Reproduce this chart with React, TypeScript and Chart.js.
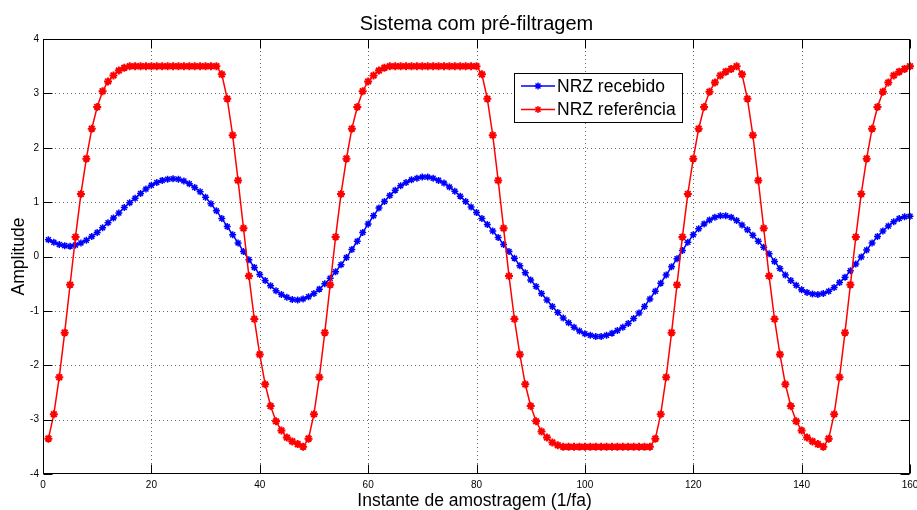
import { useEffect, useRef } from "react";
import { Chart, registerables } from "chart.js";

Chart.register(...registerables);

// Sample indices start at 1 (one value per sampling instant)
const firstSample = 1;

const xTicks = [0, 20, 40, 60, 80, 100, 120, 140, 160];
const yTicks = [-4, -3, -2, -1, 0, 1, 2, 3, 4];

const titleText = "Sistema com pré-filtragem";
const xLabel = "Instante de amostragem (1/fa)";
const yLabel = "Amplitude";
const seriesNames = ["NRZ recebido", "NRZ referência"];

// NRZ recebido (received signal after the channel)
const received = [
  0.31, 0.26, 0.22, 0.2, 0.19, 0.21, 0.25, 0.3, 0.37, 0.44,
  0.53, 0.62, 0.71, 0.8, 0.9, 0.99, 1.07, 1.16, 1.24, 1.31,
  1.36, 1.4, 1.42, 1.43, 1.42, 1.39, 1.34, 1.27, 1.19, 1.09,
  0.97, 0.84, 0.7, 0.55, 0.4, 0.25, 0.09, -0.06, -0.2, -0.33,
  -0.44, -0.54, -0.63, -0.7, -0.75, -0.79, -0.8, -0.78, -0.74, -0.68,
  -0.6, -0.5, -0.4, -0.28, -0.15, -0.02, 0.13, 0.28, 0.44, 0.6,
  0.75, 0.89, 1.01, 1.12, 1.22, 1.3, 1.36, 1.41, 1.44, 1.46,
  1.46, 1.44, 1.4, 1.35, 1.28, 1.2, 1.11, 1.01, 0.91, 0.81,
  0.7, 0.59, 0.47, 0.35, 0.22, 0.09, -0.03, -0.17, -0.3, -0.43,
  -0.55, -0.68, -0.8, -0.92, -1.03, -1.13, -1.22, -1.3, -1.37, -1.42,
  -1.45, -1.47, -1.47, -1.45, -1.41, -1.36, -1.3, -1.23, -1.14, -1.04,
  -0.92, -0.78, -0.64, -0.49, -0.34, -0.19, -0.04, 0.11, 0.26, 0.4,
  0.51, 0.6, 0.67, 0.72, 0.75, 0.75, 0.72, 0.66, 0.58, 0.49,
  0.39, 0.28, 0.17, 0.05, -0.09, -0.22, -0.34, -0.44, -0.53, -0.61,
  -0.66, -0.69, -0.7, -0.68, -0.64, -0.57, -0.48, -0.38, -0.26, -0.14,
  -0.01, 0.12, 0.25, 0.37, 0.47, 0.56, 0.64, 0.7, 0.73, 0.74,
];

// NRZ referência (pre-filtered reference signal)
const reference = [
  -3.35, -2.9, -2.22, -1.4, -0.52, 0.36, 1.15, 1.8, 2.35, 2.75,
  3.04, 3.22, 3.33, 3.42, 3.47, 3.5, 3.5, 3.5, 3.5, 3.5,
  3.5, 3.5, 3.5, 3.5, 3.5, 3.5, 3.5, 3.5, 3.5, 3.5,
  3.5, 3.5, 3.35, 2.9, 2.23, 1.4, 0.52, -0.36, -1.15, -1.8,
  -2.35, -2.75, -3.03, -3.2, -3.33, -3.4, -3.45, -3.5, -3.35, -2.9,
  -2.22, -1.4, -0.52, 0.36, 1.15, 1.8, 2.35, 2.75, 3.04, 3.22,
  3.33, 3.42, 3.47, 3.5, 3.5, 3.5, 3.5, 3.5, 3.5, 3.5,
  3.5, 3.5, 3.5, 3.5, 3.5, 3.5, 3.5, 3.5, 3.5, 3.5,
  3.35, 2.9, 2.23, 1.4, 0.52, -0.36, -1.15, -1.8, -2.35, -2.75,
  -3.03, -3.22, -3.33, -3.42, -3.47, -3.5, -3.5, -3.5, -3.5, -3.5,
  -3.5, -3.5, -3.5, -3.5, -3.5, -3.5, -3.5, -3.5, -3.5, -3.5,
  -3.5, -3.5, -3.35, -2.9, -2.22, -1.4, -0.52, 0.36, 1.15, 1.8,
  2.35, 2.75, 3.03, 3.2, 3.33, 3.4, 3.45, 3.5, 3.35, 2.9,
  2.23, 1.4, 0.52, -0.36, -1.15, -1.8, -2.35, -2.75, -3.03, -3.2,
  -3.33, -3.4, -3.45, -3.5, -3.35, -2.9, -2.22, -1.4, -0.52, 0.36,
  1.15, 1.8, 2.35, 2.75, 3.03, 3.2, 3.33, 3.4, 3.45, 3.5,
];

const BLUE = "rgb(0,0,255)";
const RED = "rgb(255,0,0)";
const FONT = "'Liberation Sans', Arial, Helvetica, sans-serif";

function drawAsterisk(ctx: CanvasRenderingContext2D, x: number, y: number, r: number) {
  const d = r * Math.SQRT1_2;
  ctx.beginPath();
  ctx.moveTo(x - r, y);
  ctx.lineTo(x + r, y);
  ctx.moveTo(x, y - r);
  ctx.lineTo(x, y + r);
  ctx.moveTo(x - d, y - d);
  ctx.lineTo(x + d, y + d);
  ctx.moveTo(x - d, y + d);
  ctx.lineTo(x + d, y - d);
  ctx.stroke();
}

// Dotted grid under the data
const gridPlugin = {
  id: "dottedGrid",
  beforeDatasetsDraw(chart: any) {
    const { ctx, chartArea: a, scales } = chart;
    ctx.save();
    ctx.strokeStyle = "rgba(0,0,0,0.6)";
    ctx.lineWidth = 1;
    ctx.setLineDash([1, 3]);
    xTicks.slice(1, -1).forEach((v) => {
      const px = Math.round(scales.x.getPixelForValue(v)) + 0.5;
      ctx.beginPath();
      ctx.moveTo(px, a.top);
      ctx.lineTo(px, a.bottom);
      ctx.stroke();
    });
    yTicks.slice(1, -1).forEach((v) => {
      const py = Math.round(scales.y.getPixelForValue(v)) + 0.5;
      ctx.beginPath();
      ctx.moveTo(a.left, py);
      ctx.lineTo(a.right, py);
      ctx.stroke();
    });
    ctx.restore();
  },
};

// Axes box, inward ticks, legend and texts
const decorPlugin = {
  id: "decor",
  afterDatasetsDraw(chart: any) {
    const { ctx, chartArea: a, scales } = chart;
    const L = Math.round(a.left) + 0.5;
    const R = Math.round(a.right) - 0.5;
    const T = Math.round(a.top) + 0.5;
    const B = Math.round(a.bottom) - 0.5;
    const tick = 9;
    ctx.save();
    ctx.setLineDash([]);
    ctx.strokeStyle = "#000";
    ctx.lineWidth = 1;
    ctx.strokeRect(L, T, R - L, B - T);
    ctx.beginPath();
    xTicks.forEach((v) => {
      const px = Math.round(scales.x.getPixelForValue(v)) + 0.5;
      ctx.moveTo(px, B);
      ctx.lineTo(px, B - tick);
      ctx.moveTo(px, T);
      ctx.lineTo(px, T + tick);
    });
    yTicks.forEach((v) => {
      const py = Math.round(scales.y.getPixelForValue(v)) + 0.5;
      ctx.moveTo(L, py);
      ctx.lineTo(L + tick, py);
      ctx.moveTo(R, py);
      ctx.lineTo(R - tick, py);
    });
    ctx.stroke();

    // legend
    const lx = 514.5, ly = 73.5, lw = 168, lh = 49;
    ctx.fillStyle = "#fff";
    ctx.fillRect(lx, ly, lw, lh);
    ctx.strokeStyle = "#000";
    ctx.strokeRect(lx, ly, lw, lh);
    const rows = [
      { name: seriesNames[0], color: BLUE, y: 86 },
      { name: seriesNames[1], color: RED, y: 109.5 },
    ];
    ctx.font = `17.5px ${FONT}`;
    ctx.textBaseline = "middle";
    ctx.textAlign = "left";
    rows.forEach((r) => {
      ctx.strokeStyle = r.color;
      ctx.lineWidth = 1.5;
      ctx.beginPath();
      ctx.moveTo(521, r.y);
      ctx.lineTo(555, r.y);
      ctx.stroke();
      drawAsterisk(ctx, 538, r.y, 3.5);
      ctx.fillStyle = "#000";
      ctx.fillText(r.name, 557, r.y + 1);
    });

    // title and axis labels
    const cx = (a.left + a.right) / 2;
    ctx.fillStyle = "#000";
    ctx.textAlign = "center";
    ctx.textBaseline = "alphabetic";
    ctx.font = `20px ${FONT}`;
    ctx.fillText(titleText, cx, 30);
    ctx.font = `17.5px ${FONT}`;
    ctx.fillText(xLabel, cx - 2, 506);
    ctx.save();
    ctx.translate(24, (a.top + a.bottom) / 2);
    ctx.rotate(-Math.PI / 2);
    ctx.fillText(yLabel, 0, 0);
    ctx.restore();
    ctx.restore();
  },
};

export default function App() {
  const canvasRef = useRef<HTMLCanvasElement | null>(null);

  useEffect(() => {
    const canvas = canvasRef.current;
    if (!canvas) return;
    const toPoints = (arr: number[]) => arr.map((v, i) => ({ x: i + firstSample, y: v }));
    const chart = new Chart(canvas, {
      type: "line",
      data: {
        datasets: [
          {
            label: seriesNames[0],
            data: toPoints(received),
            borderColor: BLUE,
            backgroundColor: BLUE,
            borderWidth: 1.5,
            pointStyle: "star",
            pointRadius: 3.5,
            pointBorderWidth: 1.5,
            pointBackgroundColor: BLUE,
            pointBorderColor: BLUE,
            tension: 0,
            clip: false,
            order: 1,
          },
          {
            label: seriesNames[1],
            data: toPoints(reference),
            borderColor: RED,
            backgroundColor: RED,
            borderWidth: 1.5,
            pointStyle: "star",
            pointRadius: 4,
            pointBorderWidth: 2,
            pointBackgroundColor: RED,
            pointBorderColor: RED,
            tension: 0,
            clip: false,
            order: 0,
          },
        ],
      },
      options: {
        animation: false,
        responsive: false,
        events: [],
        layout: { padding: { top: 39, right: 7, left: 0, bottom: 0 } },
        plugins: {
          legend: { display: false },
          title: { display: false },
          tooltip: { enabled: false },
        },
        scales: {
          x: {
            type: "linear",
            min: 0,
            max: 160,
            afterBuildTicks: (s: any) => {
              s.ticks = xTicks.map((v) => ({ value: v }));
            },
            afterFit: (s: any) => {
              s.height = 36;
              s.paddingLeft = 0;
              s.paddingRight = 0;
            },
            ticks: {
              autoSkip: false,
              maxRotation: 0,
              padding: 5,
              color: "#000",
              font: { family: FONT, size: 10 },
            },
            grid: { display: false, drawTicks: false },
            border: { display: false },
          },
          y: {
            type: "linear",
            min: -4,
            max: 4,
            afterBuildTicks: (s: any) => {
              s.ticks = yTicks.map((v) => ({ value: v }));
            },
            afterFit: (s: any) => {
              s.width = 43;
              s.paddingTop = 0;
              s.paddingBottom = 0;
            },
            ticks: {
              padding: 4,
              color: "#000",
              font: { family: FONT, size: 10 },
            },
            grid: { display: false, drawTicks: false },
            border: { display: false },
          },
        },
      },
      plugins: [gridPlugin, decorPlugin],
    });
    return () => chart.destroy();
  }, []);

  return (
    <div style={{ position: "fixed", left: 0, top: 0, width: 917, height: 510, background: "#fff" }}>
      <canvas ref={canvasRef} width={917} height={510} style={{ display: "block" }} />
    </div>
  );
}
